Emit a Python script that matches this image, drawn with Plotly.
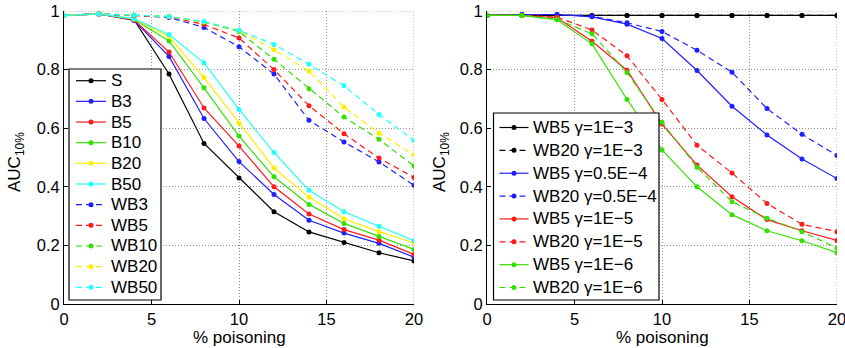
import plotly.graph_objects as go

x = [0, 2, 4, 6, 8, 10, 12, 14, 16, 18, 20]

# Left panel
S    = [0.985, 0.990, 0.970, 0.785, 0.548, 0.430, 0.315, 0.246, 0.210, 0.175, 0.147]
B3   = [0.985, 0.990, 0.968, 0.845, 0.633, 0.486, 0.374, 0.286, 0.242, 0.207, 0.160]
B5   = [0.985, 0.990, 0.970, 0.860, 0.669, 0.539, 0.400, 0.307, 0.254, 0.218, 0.169]
B10  = [0.985, 0.990, 0.972, 0.898, 0.738, 0.573, 0.434, 0.340, 0.275, 0.230, 0.186]
B20  = [0.985, 0.990, 0.973, 0.912, 0.773, 0.618, 0.464, 0.364, 0.291, 0.247, 0.209]
B50  = [0.985, 0.990, 0.974, 0.920, 0.823, 0.664, 0.517, 0.388, 0.315, 0.265, 0.216]
WB3  = [0.985, 0.990, 0.985, 0.978, 0.944, 0.878, 0.785, 0.627, 0.553, 0.485, 0.405]
WB5  = [0.985, 0.990, 0.985, 0.980, 0.954, 0.908, 0.800, 0.677, 0.581, 0.498, 0.432]
WB10 = [0.985, 0.990, 0.986, 0.981, 0.962, 0.930, 0.835, 0.735, 0.638, 0.562, 0.471]
WB20 = [0.985, 0.990, 0.986, 0.981, 0.963, 0.934, 0.868, 0.795, 0.672, 0.583, 0.509]
WB50 = [0.985, 0.990, 0.986, 0.981, 0.964, 0.934, 0.886, 0.818, 0.745, 0.647, 0.558]

# Right panel
WB5_g1e3    = [0.985, 0.985, 0.985, 0.985, 0.985, 0.985, 0.985, 0.985, 0.985, 0.985, 0.985]
WB20_g1e3   = [0.985, 0.985, 0.985, 0.985, 0.985, 0.985, 0.985, 0.985, 0.985, 0.985, 0.985]
WB5_g05e4   = [0.985, 0.988, 0.988, 0.980, 0.955, 0.906, 0.797, 0.675, 0.577, 0.495, 0.428]
WB20_g05e4  = [0.985, 0.988, 0.988, 0.982, 0.960, 0.930, 0.866, 0.791, 0.667, 0.579, 0.507]
WB5_g1e5    = [0.985, 0.985, 0.977, 0.897, 0.798, 0.614, 0.474, 0.366, 0.288, 0.250, 0.217]
WB20_g1e5   = [0.985, 0.985, 0.979, 0.935, 0.847, 0.698, 0.542, 0.447, 0.343, 0.272, 0.247]
WB5_g1e6    = [0.985, 0.985, 0.970, 0.888, 0.698, 0.526, 0.400, 0.305, 0.250, 0.216, 0.175]
WB20_g1e6   = [0.985, 0.985, 0.972, 0.922, 0.790, 0.620, 0.467, 0.349, 0.293, 0.247, 0.191]

x_ticks = [0, 5, 10, 15, 20]
y_ticks = [0, 0.2, 0.4, 0.6, 0.8, 1]
y_tick_labels = ["0", "0.2", "0.4", "0.6", "0.8", "1"]
x_title = "% poisoning"
y_title = "AUC<sub>10%</sub>"

BLACK, BLUE, RED, GREEN, YELLOW, CYAN = "#000000", "#2020ff", "#ff1a1a", "#33e000", "#ffee00", "#22ffff"
DASH = "6px,4px"
FONT = "Liberation Sans, Arial, Helvetica, sans-serif"

left_series = [
    ("S", S, BLACK, "solid"), ("B3", B3, BLUE, "solid"), ("B5", B5, RED, "solid"),
    ("B10", B10, GREEN, "solid"), ("B20", B20, YELLOW, "solid"), ("B50", B50, CYAN, "solid"),
    ("WB3", WB3, BLUE, DASH), ("WB5", WB5, RED, DASH), ("WB10", WB10, GREEN, DASH),
    ("WB20", WB20, YELLOW, DASH), ("WB50", WB50, CYAN, DASH),
]
right_series = [
    ("WB5 γ=1E−3", WB5_g1e3, BLACK, "solid"), ("WB20 γ=1E−3", WB20_g1e3, BLACK, DASH),
    ("WB5 γ=0.5E−4", WB5_g05e4, BLUE, "solid"), ("WB20 γ=0.5E−4", WB20_g05e4, BLUE, DASH),
    ("WB5 γ=1E−5", WB5_g1e5, RED, "solid"), ("WB20 γ=1E−5", WB20_g1e5, RED, DASH),
    ("WB5 γ=1E−6", WB5_g1e6, GREEN, "solid"), ("WB20 γ=1E−6", WB20_g1e6, GREEN, DASH),
]

W, H = 845, 348


def px(xw):
    return xw / W


def py(yw):
    return 1 - yw / H


fig = go.Figure()
for name, ys, c, d in left_series:
    fig.add_trace(go.Scatter(x=x, y=ys, name=name, mode="lines+markers",
                             line=dict(color=c, width=1.2, dash=d),
                             marker=dict(color=c, size=5),
                             xaxis="x", yaxis="y", showlegend=False))
for name, ys, c, d in right_series:
    fig.add_trace(go.Scatter(x=x, y=ys, name=name, mode="lines+markers",
                             line=dict(color=c, width=1.2, dash=d),
                             marker=dict(color=c, size=5),
                             xaxis="x2", yaxis="y2", showlegend=False))

xd1 = [px(64), px(414)]
xd2 = [px(487), px(837)]
yd = [py(304), py(11)]

axis_common = dict(showline=True, linecolor="black", linewidth=1, mirror=False,
                   ticks="inside", ticklen=4, tickcolor="black",
                   showgrid=True, gridcolor="#909090", griddash="1px,2px", gridwidth=1,
                   zeroline=False, tickfont=dict(family=FONT, size=16.5, color="black"),
                   ticklabeloverflow="allow", automargin=False)

fig.update_layout(
    width=W, height=H, margin=dict(l=0, r=0, t=0, b=0),
    plot_bgcolor="white", paper_bgcolor="white",
    font=dict(family=FONT, color="black"),
    xaxis=dict(domain=xd1, range=[0, 20], tickvals=x_ticks, anchor="y", **axis_common),
    yaxis=dict(domain=yd, range=[0, 1], tickvals=y_ticks, ticktext=y_tick_labels, anchor="x", **axis_common),
    xaxis2=dict(domain=xd2, range=[0, 20], tickvals=x_ticks, anchor="y2", **axis_common),
    yaxis2=dict(domain=yd, range=[0, 1], tickvals=y_ticks, ticktext=y_tick_labels, anchor="x2", **axis_common),
    showlegend=False,
)

# Dotted grid lines along the top (y=1) and right (x=20) edges, as in the reference
for xa, ya in [("x", "y"), ("x2", "y2")]:
    fig.add_shape(type="line", xref=xa, yref=ya, x0=0, x1=20, y0=1, y1=1,
                  line=dict(color="#909090", width=1, dash="1px,2px"), layer="below")
    fig.add_shape(type="line", xref=xa, yref=ya, x0=20, x1=20, y0=0, y1=1,
                  line=dict(color="#909090", width=1, dash="1px,2px"), layer="below")

ann_font = dict(family=FONT, size=17, color="black")
for xc in [(64 + 414) / 2, (487 + 837) / 2]:
    fig.add_annotation(text=x_title, x=px(xc), y=py(337), xref="paper", yref="paper",
                       showarrow=False, font=ann_font, xanchor="center", yanchor="middle")
for xw in [16, 441]:
    fig.add_annotation(text=y_title, x=px(xw), y=py(162), xref="paper", yref="paper",
                       showarrow=False, font=ann_font, textangle=-90, xanchor="center", yanchor="middle")


def draw_legend(series, box, line_x0, line_x1, text_x, y0, dy):
    bx0, by0, bx1, by1 = box
    fig.add_shape(type="rect", xref="paper", yref="paper",
                  x0=px(bx0), x1=px(bx1), y0=py(by1), y1=py(by0),
                  line=dict(color="black", width=1.2), fillcolor="white", layer="above")
    for i, (name, _, c, d) in enumerate(series):
        yc = y0 + i * dy
        fig.add_shape(type="line", xref="paper", yref="paper",
                      x0=px(line_x0), x1=px(line_x1), y0=py(yc), y1=py(yc),
                      line=dict(color=c, width=1.2, dash=d), layer="above")
        mx = (line_x0 + line_x1) / 2
        r = 2.5
        fig.add_shape(type="circle", xref="paper", yref="paper",
                      x0=px(mx - r), x1=px(mx + r), y0=py(yc + r), y1=py(yc - r),
                      line=dict(color=c, width=0), fillcolor=c, layer="above")
        fig.add_annotation(text=name, x=px(text_x), y=py(yc), xref="paper", yref="paper",
                           showarrow=False, font=ann_font, xanchor="left", yanchor="middle",
                           borderpad=0)


draw_legend(left_series, (69, 69, 161, 300), 76, 106, 110, 80.7, 20.66)
draw_legend(right_series, (493.5, 113, 659, 300), 499.5, 528.5, 532, 127.5, 22.86)

fig.write_html("out.html", config={"displayModeBar": False},
               post_script="document.body.style.margin='0';")
